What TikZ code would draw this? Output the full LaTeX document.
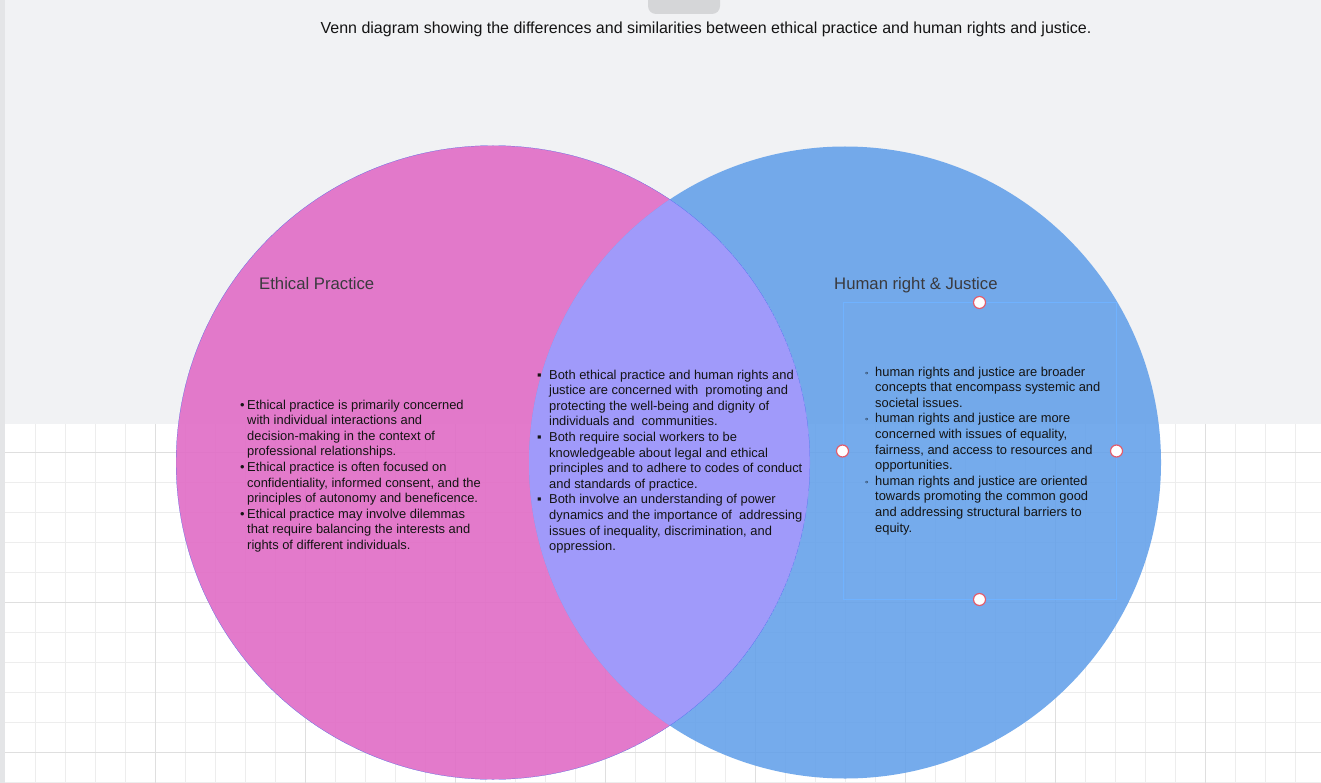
\documentclass[tikz,border=0pt]{standalone}
\usepackage{fontspec}
\setmainfont{Liberation Sans}
\usetikzlibrary{positioning}
\definecolor[named]{Pink}{RGB}{225,108,198}
\definecolor[named]{Sky}{RGB}{102,162,234}
\definecolor[named]{Lavender}{RGB}{160,154,250}
\definecolor[named]{Canvas}{RGB}{241,242,244}
\definecolor[named]{Minor}{RGB}{237,237,237}
\definecolor[named]{Major}{RGB}{223,223,223}
\definecolor[named]{Strip}{RGB}{228,229,231}
\definecolor[named]{Tab}{RGB}{213,214,216}
\definecolor[named]{Handle}{RGB}{226,92,108}
\definecolor[named]{Frame}{RGB}{112,178,255}
\definecolor[named]{Ink}{RGB}{20,20,20}
\definecolor[named]{Caption}{RGB}{58,58,62}
\newcommand\bl[2]{\makebox[#1][l]{#2}}
\newcommand\hang[1]{\hspace*{#1}}
\newcommand\ring{{\fontsize{9.5}{9}\selectfont\color{black}◦}}
\tikzset{pinkset/.style ={
        circle,
        fill=Pink,
        fill opacity=.9,
        minimum size=634pt,
        inner sep=0
    },
    skyset/.style ={
        circle,
        fill=Sky,
        fill opacity=.9,
        minimum size=632pt,
        inner sep=0
    },
    setlabel/.style ={
        text=Caption,
        font=\fontsize{16.7}{20}\selectfont,
        inner sep=0,
        anchor=base west
    },
    bullets/.style ={
        text=Ink,
        font=\fontsize{12.9}{15.6}\selectfont,
        align=left,
        inner sep=0,
        anchor=north west
    },
    minorline/.style ={
        draw=Minor,
        line width=1pt
    },
    majorline/.style ={
        draw=Major,
        line width=1.3pt
    },
    selbox/.style ={
        draw=Frame,
        line width=1pt,
        minimum width=273pt,
        minimum height=296pt,
        inner sep=0
    },
    handle/.style ={
        circle,
        draw=Handle,
        fill=white,
        line width=1.2pt,
        minimum size=12pt,
        inner sep=0
    }}

\begin{document}
\begin{tikzpicture}[x=1pt,y=-1pt]
    \useasboundingbox (0,0) rectangle (1321,783);
    % canvas and grid
    \fill[white] (0,0) rectangle (1321,783);
    \fill[Canvas] (0,0) rectangle (1321,424);
    \foreach \gx in {35.7,65.7,...,1321} \draw[minorline] (\gx,424) -- (\gx,783);
    \foreach \gy in {482.7,512.7,...,783} \draw[minorline] (5,\gy) -- (1321,\gy);
    \foreach \gx in {155.7,305.7,...,1321} \draw[majorline] (\gx,424) -- (\gx,783);
    \foreach \gy in {452.7,602.7,752.7} \draw[majorline] (5,\gy) -- (1321,\gy);
    \fill[Strip] (0,0) rectangle (5,783);
    \fill[Tab,rounded corners=8pt] (648,-12) rectangle (720,14);

    \node (title) [text=Ink,font=\fontsize{16}{19}\selectfont] at (706,29.5)
        {Venn diagram showing the differences and similarities between ethical practice and human rights and justice.};

    % the two sets
    \node (ethics)[pinkset] at (493,462.5) {};
    \node (rights)[skyset] at (845,462.5) {};
    \begin{scope}
        \clip (ethics.center) circle[radius=317pt];
        \fill[Lavender] (rights.center) circle[radius=316pt];
        \draw[Sky!70!blue,line width=.4pt] (ethics.center) circle[radius=317pt];
    \end{scope}

    \node (ethicslabel)[setlabel] at (259,289.5) {Ethical Practice};
    \node (rightslabel)[setlabel] at (834,289.5) {Human right \& Justice};

    \node (ethicstext)[bullets] at (240,399.5) {%
        \bl{7pt}{•}Ethical practice is primarily concerned\\
        \hang{7pt}with individual interactions and\\
        \hang{7pt}decision-making in the context of\\
        \hang{7pt}professional relationships.\\
        \bl{7pt}{•}Ethical practice is often focused on\\
        \hang{7pt}confidentiality, informed consent, and the\\
        \hang{7pt}principles of autonomy and beneficence.\\
        \bl{7pt}{•}Ethical practice may involve dilemmas\\
        \hang{7pt}that require balancing the interests and\\
        \hang{7pt}rights of different individuals.};

    \node (sharedtext)[bullets] at (537,369.5) {%
        \bl{12pt}{▪}Both ethical practice and human rights and\\
        \hang{12pt}justice are concerned with\ \ promoting and\\
        \hang{12pt}protecting the well-being and dignity of\\
        \hang{12pt}individuals and\ \ communities.\\
        \bl{12pt}{▪}Both require social workers to be\\
        \hang{12pt}knowledgeable about legal and ethical\\
        \hang{12pt}principles and to adhere to codes of conduct\\
        \hang{12pt}and standards of practice.\\
        \bl{12pt}{▪}Both involve an understanding of power\\
        \hang{12pt}dynamics and the importance of\ \ addressing\\
        \hang{12pt}issues of inequality, discrimination, and\\
        \hang{12pt}oppression.};

    % selected text box
    \node (rightsbox)[selbox] at (979.5,451) {};
    \node (rightstext)[bullets] at (865,366.5) {%
        \bl{10pt}{\ring}human rights and justice are broader\\
        \hang{10pt}concepts that encompass systemic and\\
        \hang{10pt}societal issues.\\
        \bl{10pt}{\ring}human rights and justice are more\\
        \hang{10pt}concerned with issues of equality,\\
        \hang{10pt}fairness, and access to resources and\\
        \hang{10pt}opportunities.\\
        \bl{10pt}{\ring}human rights and justice are oriented\\
        \hang{10pt}towards promoting the common good\\
        \hang{10pt}and addressing structural barriers to\\
        \hang{10pt}equity.};
    \foreach \side in {north,west,east,south}
        \node (handle-\side)[handle] at (rightsbox.\side) {};

\end{tikzpicture}
\end{document}
